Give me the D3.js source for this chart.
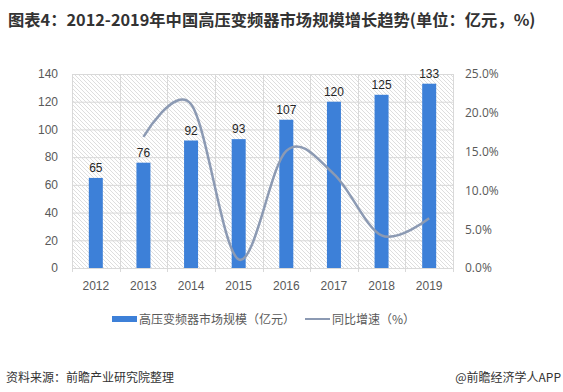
<!DOCTYPE html>
<html><head><meta charset="utf-8">
<script src="https://cdn.jsdelivr.net/npm/d3@7"></script>
<style>body{margin:0;background:#fff;}svg{display:block;font-family:"Noto Sans CJK SC","Noto Sans",sans-serif;}</style>
</head><body>
<script>
const years = ["2012","2013","2014","2015","2016","2017","2018","2019"];
const marketSize = [65,76,92,93,107,120,125,133];
const growthYears = ["2013","2014","2015","2016","2017","2018","2019"];
const growthRate = [16.9,21.1,1.1,15.1,12.1,4.2,6.4];
const leftTicks = [0,20,40,60,80,100,120,140];
const rightTicks = [0,5,10,15,20,25];

const W=563,H=392;
const m={l:72,r:453,t:74,b:268};
const svg=d3.select("body").append("svg").attr("width",W).attr("height",H);
const defs=svg.append("defs");
const pat=defs.append("pattern").attr("id","hatch").attr("patternUnits","userSpaceOnUse").attr("width",4).attr("height",4);
pat.append("path").attr("d","M-1,-1L5,5M3,-1L5,1M-1,3L1,5").attr("stroke","#d6d6d6").attr("stroke-width",0.8);

const x=d3.scaleBand().domain(years).range([m.l,m.r]);
const yL=d3.scaleLinear().domain([0,140]).range([m.b,m.t]);
const yR=d3.scaleLinear().domain([0,25]).range([m.b,m.t]);

svg.append("rect").attr("x",m.l).attr("y",m.t).attr("width",m.r-m.l).attr("height",m.b-m.t).attr("fill","url(#hatch)");

// grid
svg.append("g").selectAll("line").data(leftTicks).join("line")
 .attr("x1",m.l).attr("x2",m.r).attr("y1",d=>yL(d)+0.5).attr("y2",d=>yL(d)+0.5)
 .attr("stroke","#d9d9d9").attr("stroke-width",1);
const bounds=years.map(d=>x(d)).concat([m.r]);
svg.append("g").selectAll("line").data(bounds).join("line")
 .attr("x1",d=>Math.round(d)+0.5).attr("x2",d=>Math.round(d)+0.5).attr("y1",m.t).attr("y2",m.b+4)
 .attr("stroke","#d9d9d9").attr("stroke-width",1);

// left axis
const axL=svg.append("g").attr("transform",`translate(${m.l},0)`).call(d3.axisLeft(yL).tickValues(leftTicks).tickSize(0).tickPadding(14));
axL.select(".domain").remove();
axL.selectAll("text").attr("fill","#595959").style("font-size","12px").style("font-family","Liberation Sans, Arial, sans-serif");
// right axis
const axR=svg.append("g").attr("transform",`translate(${m.r},0)`).call(d3.axisRight(yR).tickValues(rightTicks).tickSize(0).tickPadding(12).tickFormat(d=>d.toFixed(1)+"%"));
axR.select(".domain").remove();
axR.selectAll("text").attr("fill","#595959").style("font-size","12px").style("font-family","'Open Sans','DejaVu Sans',sans-serif");
// bottom axis
const axB=svg.append("g").attr("transform",`translate(0,${m.b})`).call(d3.axisBottom(x).tickSize(0).tickPadding(13));
axB.select(".domain").remove();
axB.selectAll("text").attr("fill","#595959").style("font-size","12px").style("font-family","Liberation Sans, Arial, sans-serif");

// bars
const bw=14;
svg.append("g").selectAll("rect").data(years).join("rect")
 .attr("x",(d,i)=>x(d)+x.bandwidth()/2-bw/2).attr("width",bw)
 .attr("y",(d,i)=>yL(marketSize[i])).attr("height",(d,i)=>m.b-yL(marketSize[i]))
 .attr("fill","#3d80d8");
svg.append("g").selectAll("text").data(years).join("text")
 .attr("x",d=>x(d)+x.bandwidth()/2).attr("y",(d,i)=>yL(marketSize[i])-6)
 .attr("text-anchor","middle").attr("fill","#262626").style("font-size","12px").style("font-family","Liberation Sans, Arial, sans-serif")
 .text((d,i)=>marketSize[i]);

// line
const line=d3.line().x(d=>x(d[0])+x.bandwidth()/2).y(d=>yR(d[1])).curve(d3.curveCatmullRom.alpha(0));
svg.append("path").datum(growthYears.map((d,i)=>[d,growthRate[i]])).attr("d",line)
 .attr("fill","none").attr("stroke","#8c9ab3").attr("stroke-width",2.5);

// legend
svg.append("rect").attr("x",112).attr("y",316).attr("width",25).attr("height",6).attr("fill","#3d80d8");
svg.append("text").attr("x",139).attr("y",323.5).attr("fill","#595959").style("font-size","12px").text("高压变频器市场规模（亿元）");
svg.append("line").attr("x1",305).attr("x2",330).attr("y1",319).attr("y2",319).attr("stroke","#8c9ab3").attr("stroke-width",2);
svg.append("text").attr("x",332).attr("y",323.5).attr("fill","#595959").style("font-size","12px").text("同比增速（%）");

// title
svg.append("text").attr("x",8).attr("y",26).attr("fill","#333").style("font-size","16.3px").style("font-weight","bold")
 .text("图表4：2012-2019年中国高压变频器市场规模增长趋势(单位：亿元，%)");
// footer
svg.append("text").attr("x",6).attr("y",382).attr("fill","#333").style("font-size","12px").text("资料来源：前瞻产业研究院整理");
svg.append("text").attr("x",561).attr("y",382).attr("text-anchor","end").attr("fill","#333").style("font-size","12px").text("@前瞻经济学人APP");
</script>
</body></html>
